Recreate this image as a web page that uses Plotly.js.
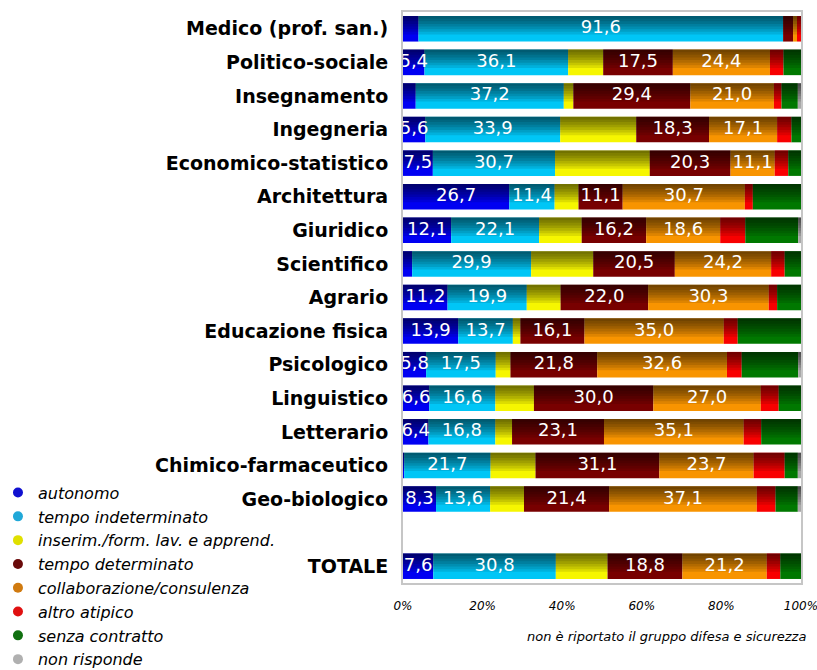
<!DOCTYPE html>
<html>
<head>
<meta charset="utf-8">
<script src="https://cdn.plot.ly/plotly-3.0.1.min.js"></script>
<style>
  body { margin: 0; background: #fff; }
  #chart { width: 817px; height: 670px; }
</style>
</head>
<body>
<div id="chart"></div>
<script>
// Gruppi disciplinari (TOTALE staccato in fondo)
var categories = ["Medico (prof. san.)", "Politico-sociale", "Insegnamento", "Ingegneria",
  "Economico-statistico", "Architettura", "Giuridico", "Scientifico", "Agrario",
  "Educazione fisica", "Psicologico", "Linguistico", "Letterario",
  "Chimico-farmaceutico", "Geo-biologico", "TOTALE"];

// percentuali per tipo di contratto
var autonomo          = [3.9, 5.4, 3.2, 5.6, 7.5, 26.7, 12.1, 2.3, 11.2, 13.9, 5.8, 6.6, 6.4, 0.3, 8.3, 7.6];
var tempoIndet        = [91.6, 36.1, 37.2, 33.9, 30.7, 11.4, 22.1, 29.9, 19.9, 13.7, 17.5, 16.6, 16.8, 21.7, 13.6, 30.8];
var inserimento       = [0, 8.8, 2.4, 19.1, 23.8, 6.0, 10.7, 15.6, 8.5, 1.9, 3.7, 9.7, 4.2, 11.3, 8.5, 13.0];
var tempoDet          = [2.5, 17.5, 29.4, 18.3, 20.3, 11.1, 16.2, 20.5, 22.0, 16.1, 21.8, 30.0, 23.1, 31.1, 21.4, 18.8];
var collaborazione    = [1.0, 24.4, 21.0, 17.1, 11.1, 30.7, 18.6, 24.2, 30.3, 35.0, 32.6, 27.0, 35.1, 23.7, 37.1, 21.2];
var altroAtipico      = [1.0, 3.4, 1.9, 3.6, 3.4, 2.0, 6.3, 3.4, 2.1, 3.5, 3.7, 4.5, 4.4, 7.8, 4.7, 3.4];
var senzaContratto    = [0, 4.4, 4.1, 2.4, 3.2, 12.1, 13.3, 4.1, 6.0, 15.9, 14.2, 5.6, 10.0, 3.3, 5.6, 5.2];
var nonRisponde       = [0, 0, 0.8, 0, 0, 0, 0.7, 0, 0, 0, 0.7, 0, 0, 0.8, 0.8, 0];

var seriesNames = ["autonomo", "tempo indeterminato", "inserim./form. lav. e apprend.",
  "tempo determinato", "collaborazione/consulenza", "altro atipico", "senza contratto", "non risponde"];
var seriesValues = [autonomo, tempoIndet, inserimento, tempoDet, collaborazione, altroAtipico, senzaContratto, nonRisponde];
var barColors = ["#0000f2", "#00c6f6", "#f6f600", "#780000", "#f89400", "#f80000", "#007800", "#a8a8a8"];
var dotColors = ["#1010d0", "#20a8d8", "#e0e000", "#6a0a0a", "#d07a10", "#e01010", "#107010", "#b0b0b0"];
var labelled = [true, true, false, true, true, false, false, false];

var font = "DejaVu Sans, Verdana, sans-serif";
var barWidth = 0.76;

// a gap row before TOTALE
var rowPos = categories.map(function (c, i) { return c === "TOTALE" ? i + 1 : i; });

var data = [];
var base = categories.map(function () { return 0; });
var textX = [], textY = [], textS = [];

seriesValues.forEach(function (vals, s) {
  data.push({
    type: "bar", orientation: "h",
    x: vals, y: rowPos, base: base.slice(),
    width: barWidth,
    marker: { color: barColors[s], line: { width: 0 } },
    showlegend: false, hoverinfo: "skip"
  });
  vals.forEach(function (v, i) {
    if (labelled[s] && v >= 5) {
      textX.push(base[i] + v / 2);
      textY.push(rowPos[i]);
      textS.push(v.toFixed(1).replace(".", ","));
    }
    base[i] += v;
  });
});

// darker top half of every bar, like the original shading
var bands = 7;
for (var k = 1; k <= bands; k++) {
  data.push({
    type: "bar", orientation: "h",
    x: base.slice(), y: rowPos, base: 0,
    width: barWidth * 0.72 * k / bands,
    offset: -barWidth / 2,
    marker: { color: "rgba(0,0,0,0.1)", line: { width: 0 } },
    showlegend: false, hoverinfo: "skip"
  });
}

data.push({
  type: "scatter", mode: "text",
  x: textX, y: textY, text: textS,
  textfont: { family: font, size: 18, color: "#ffffff" },
  showlegend: false, hoverinfo: "skip"
});

// legend with round dots
seriesNames.forEach(function (n, s) {
  data.push({
    type: "scatter", mode: "markers", x: [null], y: [null], name: n,
    marker: { symbol: "circle", size: 10, color: dotColors[s] }
  });
});

var layout = {
  width: 817, height: 670,
  margin: { l: 403, r: 16, t: 12, b: 87, autoexpand: false },
  paper_bgcolor: "#ffffff", plot_bgcolor: "#ffffff",
  barmode: "overlay",
  font: { family: font, color: "#000" },
  xaxis: {
    range: [0, 100], dtick: 20, ticksuffix: "%",
    showgrid: false, zeroline: false,
    showline: true, mirror: true, linecolor: "#c6c6c6", linewidth: 2,
    ticks: "outside", ticklen: 11, tickcolor: "rgba(0,0,0,0)",
    ticklabeloverflow: "allow",
    tickfont: { family: font, size: 12, style: "italic", color: "#000" }
  },
  yaxis: {
    range: [Math.max.apply(null, rowPos) + 0.5, -0.5],
    tickvals: rowPos, ticktext: categories,
    showgrid: false, zeroline: false,
    showline: true, mirror: true, linecolor: "#c6c6c6", linewidth: 2,
    ticks: "outside", ticklen: 9, tickcolor: "rgba(0,0,0,0)",
    tickfont: { family: font, size: 19, weight: "bold", color: "#000" }
  },
  legend: {
    x: -0.98, xanchor: "left", y: 0.188, yanchor: "top",
    indentation: -15,
    bgcolor: "rgba(0,0,0,0)",
    font: { family: font, size: 16, style: "italic", color: "#000" },
    traceorder: "normal"
  },
  annotations: [{
    xref: "paper", yref: "paper", x: 1.018, y: -0.093,
    xanchor: "right", yanchor: "middle", showarrow: false,
    text: "non è riportato il gruppo difesa e sicurezza",
    font: { family: font, size: 13, style: "italic", color: "#000" }
  }],
  showlegend: true
};

Plotly.newPlot("chart", data, layout, { displayModeBar: false, staticPlot: true });
</script>
</body>
</html>
